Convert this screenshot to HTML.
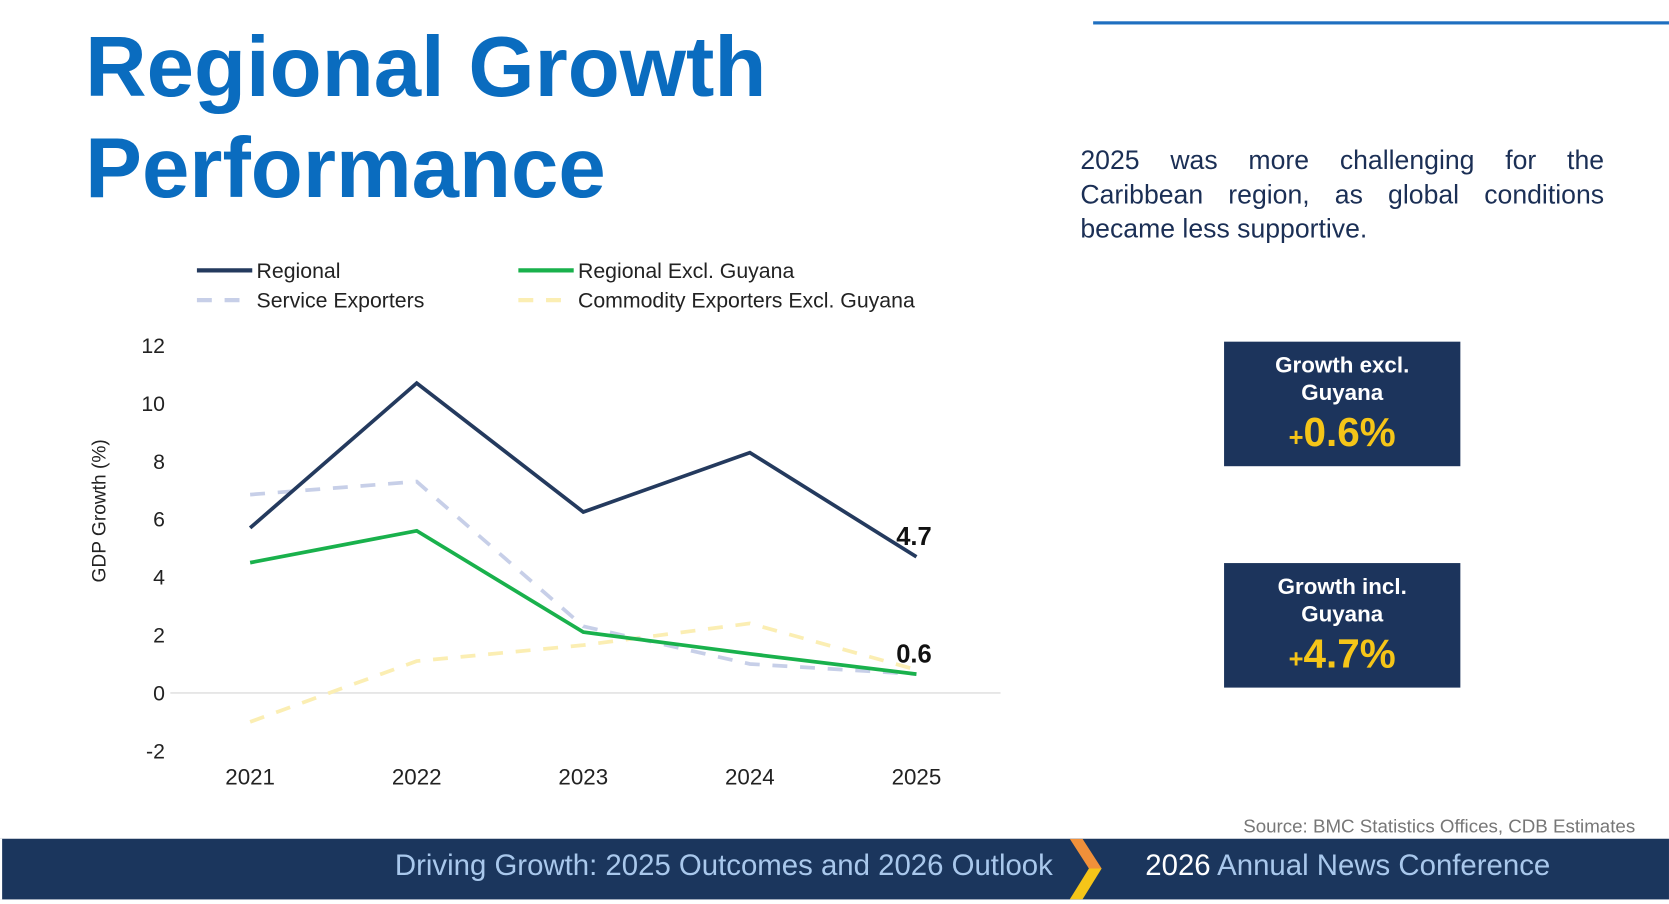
<!DOCTYPE html>
<html><head><meta charset="utf-8"><style>
html,body{margin:0;padding:0;background:#fff;overflow:hidden;width:1669px;height:904px}
#stage{position:absolute;left:0;top:0;width:1568px;height:849px;transform:scale(1.0644);transform-origin:0 0;font-family:"Liberation Sans",sans-serif}
.abs{position:absolute}
h1{position:absolute;left:80px;top:15px;margin:0;font-size:80px;line-height:95px;color:#0a6cbf;font-weight:bold;letter-spacing:0px;white-space:nowrap}
.desc{left:1015px;top:135px;width:492px;font-size:25px;line-height:32px;color:#1b2f55;text-align:justify;text-align-last:left}
.box{background:#1c345c;color:#fff;text-align:center;width:222px;height:117px}
.box .t{font-size:21px;font-weight:bold;line-height:26px;margin-top:10px}
.box .v{font-size:38px;font-weight:bold;color:#f5c518;line-height:44px;margin-top:2px}
.box .v small{font-size:24px}
.footer{left:0;top:788px;width:1568px;height:57px;background:#1b365d}
.ft{top:797px;font-size:27.6px;color:#a9c8ec;white-space:nowrap}
</style></head><body>
<div id="stage">
<div class="abs" style="left:1027px;top:20px;width:541px;height:3px;background:#1f6fc0"></div>
<h1>Regional Growth<br>Performance</h1>
<div class="abs desc">2025 was more challenging for the Caribbean region, as global conditions became less supportive.</div>
<div class="abs box" style="left:1150px;top:321px"><div class="t">Growth excl.<br>Guyana</div><div class="v"><small>+</small>0.6%</div></div>
<div class="abs box" style="left:1150px;top:529px"><div class="t">Growth incl.<br>Guyana</div><div class="v"><small>+</small>4.7%</div></div>
<svg class="abs" style="left:0;top:0" width="1000" height="760" id="chart"></svg>
<div class="abs" style="left:1168px;top:766px;font-size:17.6px;color:#777;white-space:nowrap">Source: BMC Statistics Offices, CDB Estimates</div>
<div class="abs footer"></div>
<div class="abs" style="left:0;top:788px;width:2px;height:57px;background:#fff"></div>
<svg class="abs" style="left:995px;top:788px" width="45" height="57">
<polygon points="10,0 22,0 40,28 28,28" fill="#f0903a"/><polygon points="28,28 40,28 22,57 10,57" fill="#f5c518"/></svg>
<div class="abs ft" style="left:371px">Driving Growth: 2025 Outcomes and 2026 Outlook</div>
<div class="abs ft" style="left:1076px"><span style="color:#fff">2026</span> Annual News Conference</div>
</div>
<script>
const years=["2021","2022","2023","2024","2025"];
const regional=[5.7,10.7,6.25,8.3,4.7];
const exclGuyana=[4.5,5.6,2.1,1.35,0.65];
const serviceExp=[6.85,7.3,2.3,1.0,0.65];
const commodityExp=[-1.0,1.1,1.65,2.4,0.8];
const endLabels=["4.7","0.6"];
const yTicks=[12,10,8,6,4,2,0,-2];
const svg=document.getElementById('chart');
const NS='http://www.w3.org/2000/svg';
const x=i=>235+i*156.5;
const y=v=>651-v*27.2;
function mk(tag,attrs,parent){const e=document.createElementNS(NS,tag);for(const k in attrs)e.setAttribute(k,attrs[k]);(parent||svg).appendChild(e);return e;}
function txt(s,attrs){const t=mk('text',attrs);t.textContent=s;return t;}
const zl=mk('line',{x1:160,x2:940,y1:y(0),y2:y(0),stroke:'#e2e2e2','stroke-width':1.5});


yTicks.forEach(v=>{const t=txt(String(v),{x:155,y:y(v)+7,'text-anchor':'end','font-size':20,fill:'#222','font-family':'Liberation Sans'});

});
years.forEach((s,i)=>{const t=txt(s,{x:x(i),y:737,'text-anchor':'middle','font-size':21,fill:'#222','font-family':'Liberation Sans'});

});
const yt=txt('GDP Growth (%)',{x:0,y:0,transform:'translate(99,480) rotate(-90)','text-anchor':'middle','font-size':18,fill:'#222','font-family':'Liberation Sans'});


function series(data,color,dash,name){const p=mk('polyline',{points:data.map((v,i)=>x(i)+','+y(v)).join(' '),fill:'none',stroke:color,'stroke-width':3.5,'stroke-dasharray':dash||'none','stroke-linejoin':'miter'});

}
series(commodityExp,'#fbeeb3','14 12','commodity-exporters-line');
series(serviceExp,'#c7cfe8','14 12','service-exporters-line');
series(exclGuyana,'#19b14c',null,'regional-excl-guyana-line');
series(regional,'#243a5e',null,'regional-line');
const l1=txt(endLabels[0],{x:x(4)-19,y:y(regional[4])-11,'font-size':24,'font-weight':'bold',fill:'#111','font-family':'Liberation Sans'});


const l2=txt(endLabels[1],{x:x(4)-19,y:y(exclGuyana[4])-11,'font-size':24,'font-weight':'bold',fill:'#111','font-family':'Liberation Sans'});


const legend=[["Regional","#243a5e",null,185,254],["Regional Excl. Guyana","#19b14c",null,487,254],["Service Exporters","#c7cfe8","14 12",185,282],["Commodity Exporters Excl. Guyana","#fbeeb3","14 12",487,282]];
legend.forEach(([n,c,d,lx,ly])=>{const g=mk('g',{});


mk('line',{x1:lx,x2:lx+52,y1:ly,y2:ly,stroke:c,'stroke-width':4,'stroke-dasharray':d||'none'},g);
const t=mk('text',{x:lx+56,y:ly+7,'font-size':20,fill:'#222','font-family':'Liberation Sans'},g);t.textContent=n;});
</script>
</body></html>
